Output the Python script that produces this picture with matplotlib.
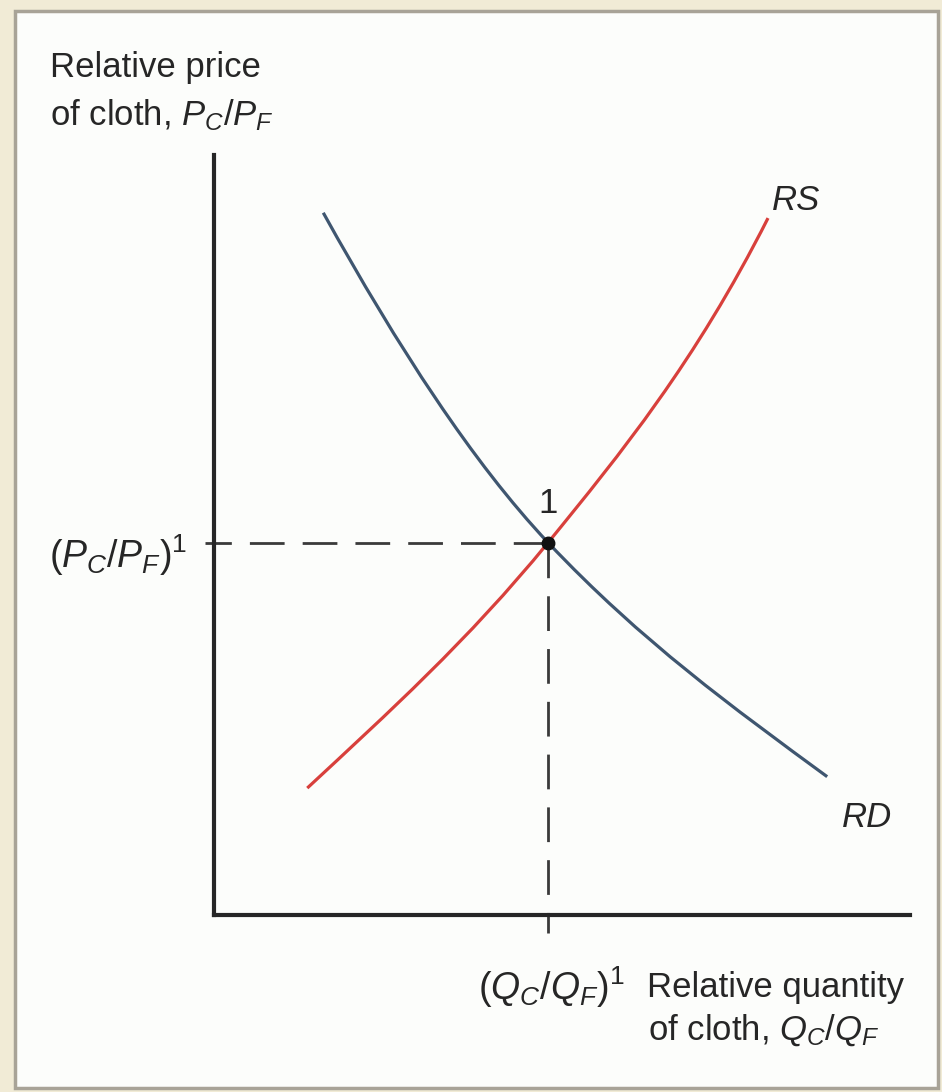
import matplotlib.pyplot as plt
from matplotlib.patches import Rectangle, PathPatch
from matplotlib.path import Path

plt.rcParams['font.family'] = ['Liberation Sans', 'DejaVu Sans']
plt.rcParams['mathtext.fontset'] = 'custom'
plt.rcParams['mathtext.rm'] = 'Liberation Sans'
plt.rcParams['mathtext.it'] = 'Liberation Sans:italic'
plt.rcParams['mathtext.bf'] = 'Liberation Sans:bold'

# RD and RS as two cubic Bezier pieces each: end, handle, handle, point 1, handle, handle, end
rd_q = [1.57, 2.65, 3.72, 4.80, 6.14, 7.47, 8.81]
rd_p = [9.24, 7.46, 5.95, 4.90, 3.60, 2.72, 1.82]

rs_q = [1.34, 2.49, 3.65, 4.80, 5.85, 6.91, 7.96]
rs_p = [1.67, 2.65, 3.61, 4.90, 6.08, 7.27, 9.17]

# equilibrium point 1
eq_q = 4.80
eq_p = 4.90

W, H = 942, 1092
INK = '#262626'


def px(x, y):
    return x / W, 1 - y / H


def curve(ax, q, p, color):
    codes = [Path.MOVETO] + [Path.CURVE4] * (len(q) - 1)
    path = Path(list(zip(q, p)), codes)
    ax.add_patch(PathPatch(path, facecolor='none', edgecolor=color, lw=2.3,
                           capstyle='butt'))


fig = plt.figure(figsize=(W / 100, H / 100), dpi=100)
fig.patch.set_facecolor('#f1ebd6')
x0, y0 = px(15, 1088)
x1, y1 = px(938, 11)
fig.patches.append(Rectangle((x0, y0), x1 - x0, y1 - y0, transform=fig.transFigure,
                             facecolor='#fcfdfb', edgecolor='#a8a397', lw=2.5, zorder=-10))

ax = fig.add_axes([214 / W, 1 - 915 / H, (910 - 214) / W, (915 - 155) / H])
ax.set_zorder(1)
ax.set_xlim(0, 10)
ax.set_ylim(0, 10)
ax.patch.set_alpha(0)
for side in ['top', 'right']:
    ax.spines[side].set_visible(False)
for side in ['left', 'bottom']:
    ax.spines[side].set_linewidth(3)
    ax.spines[side].set_color(INK)
    ax.spines[side].set_capstyle('projecting')
ax.set_xticks([])
ax.set_yticks([])

curve(ax, rd_q, rd_p, '#3f5670')
curve(ax, rs_q, rs_p, '#d8403c')

dash = (0, (12.5, 6.5))
ax.plot([eq_q, -0.13], [eq_p, eq_p], color='#3a3a3a', lw=2, ls=dash, clip_on=False)
ax.plot([eq_q, eq_q], [eq_p, -0.24], color='#3a3a3a', lw=2, ls=dash, clip_on=False)
ax.plot([eq_q], [eq_p], 'o', color='#111111', ms=9, zorder=5)

fs = 25
kw = dict(fontsize=fs, color=INK, va='baseline')
mkw = dict(fontsize=27, color=INK, va='baseline')
fig.text(*px(50, 77), 'Relative price', ha='left', **kw)
fig.text(*px(50, 125), 'of cloth, $P_C/P_F$', ha='left', **kw)
fig.text(*px(187, 568), '$(P_C/P_F)^1$', ha='right', **mkw)
fig.text(*px(551, 1000), '$(Q_C/Q_F)^1$', ha='center', **mkw)
fig.text(*px(647, 997), 'Relative quantity', ha='left', **kw)
fig.text(*px(648, 1040), 'of cloth, $Q_C/Q_F$', ha='left', **kw)
fig.text(*px(772, 210), 'RS', ha='left', style='italic', **kw)
fig.text(*px(842, 827), 'RD', ha='left', style='italic', **kw)
fig.text(*px(548, 513), '1', ha='center', **kw)

fig.savefig('out.png', dpi=100, facecolor=fig.get_facecolor())
